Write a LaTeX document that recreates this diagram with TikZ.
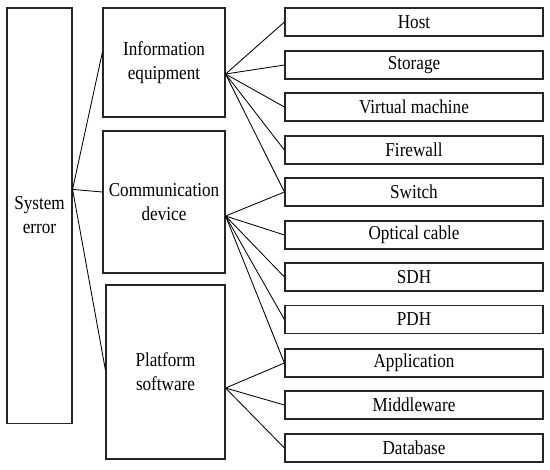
\documentclass[tikz,border=0pt]{standalone}
\usepackage{fontspec}
\setmainfont{Liberation Serif}[FakeStretch=0.87]
\usetikzlibrary{calc}

\tikzset{
  box/.style={draw=black!85, line width=0.8pt, inner sep=0pt, align=center,
    font=\fontsize{14}{17}\selectfont},
  leaf/.style={box, minimum width=6.45cm, minimum height=0.7cm},
  link/.style={line width=0.6pt},
}

\begin{document}
\begin{tikzpicture}[x=0.025cm,y=-0.025cm]
\path[use as bounding box] (0,0) rectangle (550,469);
% left column
\node[box, minimum width=1.625cm, minimum height=10.375cm] (se) at (39.5,215.5) {System\\error};
% middle column
\node[box, minimum width=3.05cm, minimum height=2.725cm] (ie) at (164,62.5) {Information\\equipment};
\node[box, minimum width=3.05cm, minimum height=3.55cm] (cd) at (164,202) {Communication\\device};
\node[box, minimum width=2.975cm, minimum height=4.35cm] (ps) at (165.5,372) {Platform\\software};
% right column
\foreach \name/\txt/\y in {host/Host/22, stor/Storage/65, vm/Virtual machine/107,
    fw/Firewall/150, sw/Switch/192, oc/Optical cable/235, sdh/SDH/277,
    pdh/PDH/319.5, app/Application/363, mw/Middleware/405, db/Database/448}
  \node[leaf] (\name) at (414,\y) {\txt};
% fan points
\coordinate (seout) at ($(se.north east)+(0,182)$);
\coordinate (ieout) at ($(ie.east)+(0,11.5)$);
\coordinate (cdout) at ($(cd.east)+(0,14)$);
\coordinate (psout) at ($(ps.east)+(0,16)$);
% connectors
\draw[link] (seout) -- ([yshift=0.26cm]ie.west);
\draw[link] (seout) -- ([yshift=0.25cm]cd.west);
\draw[link] (seout) -- ([yshift=0.05cm]ps.west);
\foreach \t in {host,stor,vm,fw,sw}
  \draw[link] (ieout) -- (\t.west);
\foreach \t in {sw,oc,sdh,pdh,app}
  \draw[link] (cdout) -- (\t.west);
\foreach \t in {app,mw,db}
  \draw[link] (psout) -- (\t.west);
\end{tikzpicture}
\end{document}
